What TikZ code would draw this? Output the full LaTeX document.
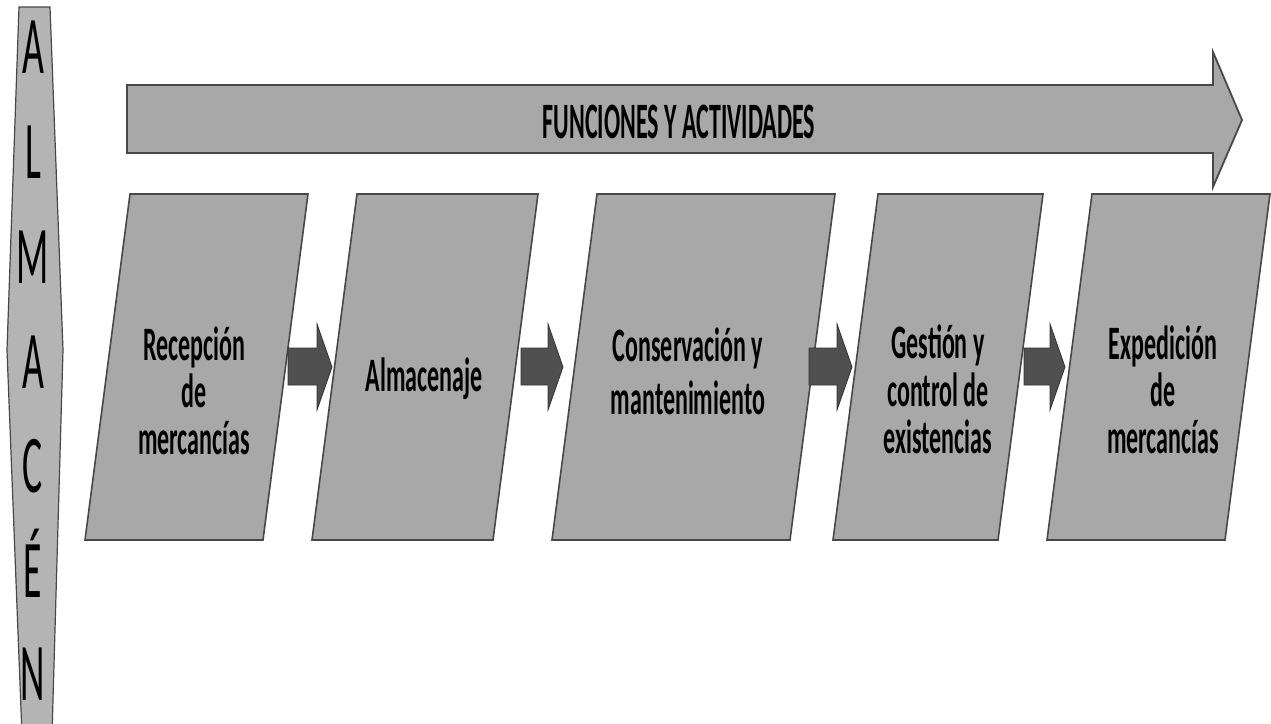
\documentclass[tikz,border=0pt]{standalone}
\usepackage{fontspec}
\setmainfont{Carlito}
\usepackage{graphicx}
\definecolor{boxfill}{HTML}{A8A8A8}
\definecolor{barfill}{HTML}{B4B4B4}
\definecolor{edge}{HTML}{484848}
\definecolor{darkarrow}{HTML}{505050}
\newcommand{\narrow}[2]{\scalebox{#1}[1]{\begin{tabular}{@{}c@{}}#2\end{tabular}}}
\tikzset{
  panel/.style={fill=boxfill, draw=edge, line width=1.6pt, line join=miter},
  sidebar/.style={fill=barfill, draw=edge, line width=1.2pt},
  bandarrow/.style={fill=boxfill, draw=edge, line width=1.8pt, line join=miter},
  flowarrow/.style={fill=darkarrow, draw=black!80, line width=0.8pt, line join=miter},
  boxtext/.style={inner sep=0pt, font=\fontsize{48}{45}\selectfont\bfseries, align=center},
  bartext/.style={inner sep=0pt, font=\fontsize{82}{82}\selectfont, anchor=base},
  bandtext/.style={inner sep=0pt, font=\fontsize{51}{51}\selectfont\bfseries, anchor=base}
}
\begin{document}
\begin{tikzpicture}[x=1pt,y=-1pt]
\useasboundingbox (0,0) rectangle (1271,723);
\fill[white] (0,0) rectangle (1271,723);

% vertical side bar
\begin{scope}
  \clip (0,0) rectangle (1271,723);
  \draw[sidebar] (19,7) -- (50,7) -- (63,350) -- (52,735) -- (22,735) -- (7,350) -- cycle;
\end{scope}
\foreach \ch/\yb [count=\i] in {A/73, L/178, M/283, A/388, C/492, É/597, N/700}
  \node[bartext] (side\i) at (33,\yb) {\scalebox{0.46}[1]{\ch}};

% top band arrow
\draw[bandarrow] (127,85) -- (1213,85) -- (1213,52) -- (1242,120) -- (1213,187)
  -- (1213,153) -- (127,153) -- cycle;
\node[bandtext] (band) at (679,138) {\scalebox{0.47}[1]{FUNCIONES Y ACTIVIDADES}};

% process panels (parallelograms)
\def\ytop{194}
\def\ybot{540}
\def\sl{45}
\foreach \xa/\xb [count=\i] in {130/308, 357/538, 597/835, 878/1043, 1092/1270} {
  \coordinate (p\i tl) at (\xa,\ytop);
  \coordinate (p\i tr) at (\xb,\ytop);
  \coordinate (p\i br) at ({\xb-\sl},\ybot);
  \coordinate (p\i bl) at ({\xa-\sl},\ybot);
  \draw[panel] (p\i tl) -- (p\i tr) -- (p\i br) -- (p\i bl) -- cycle;
}

\node[boxtext] (t1) at (194,397) {\narrow{0.5}{Recepción\\de\\mercancías}};
\node[boxtext] (t2) at (424,381) {\narrow{0.5}{Almacenaje}};
\node[boxtext] (t3) at (688,378) {\narrow{0.5}{Conservación y\\[6pt]mantenimiento}};
\node[boxtext] (t4) at (938,396) {\narrow{0.5}{Gestión y\\control de\\existencias}};
\node[boxtext] (t5) at (1163,396) {\narrow{0.5}{Expedición\\de\\mercancías}};

% flow arrows between panels
\foreach \xs/\xh/\xt [count=\i] in {288/317/332, 521/548/563, 809/837/852, 1024/1050/1065}
  \draw[flowarrow] (\xs,348) -- (\xh,348) -- (\xh,324) -- (\xt,367) -- (\xh,410)
    -- (\xh,385) -- (\xs,385) -- cycle;
\end{tikzpicture}
\end{document}
